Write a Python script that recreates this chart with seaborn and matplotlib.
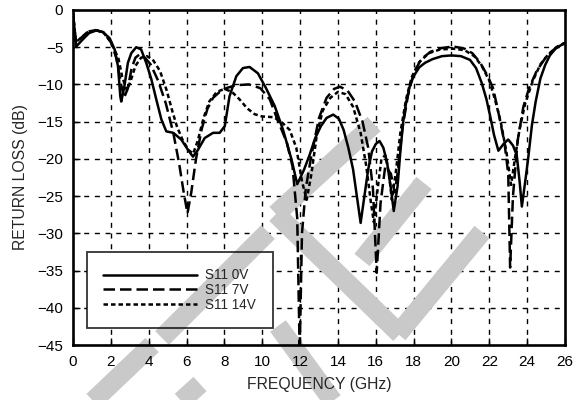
import matplotlib
matplotlib.use("Agg")
import matplotlib.pyplot as plt
from matplotlib.lines import Line2D
from matplotlib.patches import Rectangle
from matplotlib.ticker import MultipleLocator
import seaborn as sns

# S11 0V (solid)
freq_0v = [0.0, 0.17, 0.5, 0.85, 1.23, 1.58, 1.94, 2.2, 2.38, 2.5, 2.55, 2.72, 2.9, 3.08, 3.34,
           3.6, 3.87, 4.14, 4.4, 4.67, 4.93, 5.3, 5.72, 6.08, 6.34, 6.6, 6.96, 7.4, 7.75, 8.02,
           8.27, 8.63, 8.98, 9.33, 9.77, 10.2, 10.66, 11.1, 11.55, 11.85, 12.2, 12.5, 12.8, 13.1,
           13.4, 13.75, 14.05, 14.3, 14.55, 14.8, 15.0, 15.2, 15.4, 15.6, 15.8, 16.0, 16.2, 16.4,
           16.6, 16.8, 16.95, 17.15, 17.3, 17.45, 17.6, 17.8, 18.0, 18.3, 18.6, 19.0, 19.5, 20.0,
           20.5, 20.98, 21.3, 21.6, 21.85, 22.05, 22.25, 22.48, 22.75, 23.0, 23.25, 23.45, 23.6,
           23.72, 23.9, 24.06, 24.25, 24.45, 24.7, 24.95, 25.2, 25.5, 25.8, 26.0]
rl_0v = [-0.4, -4.9, -4.0, -3.1, -2.75, -2.95, -3.8, -5.3, -7.6, -11.6, -12.3, -10.2, -7.1, -5.8, -5.0,
         -5.3, -7.1, -9.3, -12.0, -14.7, -16.3, -16.5, -17.4, -18.8, -19.7, -18.8, -17.2, -16.5, -16.5, -15.6,
         -11.6, -8.9, -7.8, -7.65, -8.5, -10.5, -12.9, -16.1, -20.1, -23.4, -21.5, -19.5, -17.2, -15.6,
         -14.5, -14.05, -14.6, -16.1, -18.5, -21.4, -25.0, -28.6, -25.0, -21.4, -19.0, -18.0, -17.6, -18.5,
         -20.5, -24.0, -27.0, -23.7, -19.0, -15.0, -12.5, -10.2, -8.9, -7.7, -7.1, -6.6, -6.2, -6.1,
         -6.2, -6.7, -7.8, -9.8, -12.0, -14.3, -16.8, -18.9, -18.0, -17.4, -18.2, -19.5, -23.0,
         -26.4, -23.0, -19.8, -15.5, -12.3, -9.2, -7.4, -6.1, -5.2, -4.7, -4.5]

# S11 7V (long dashes)
freq_7v = [0.0, 0.15, 0.4, 0.8, 1.2, 1.6, 2.0, 2.3, 2.5, 2.7, 2.9, 3.1, 3.3, 3.5, 3.8, 4.1, 4.5,
           4.9, 5.3, 5.6, 5.85, 6.05, 6.25, 6.5, 6.8, 7.1, 7.4, 7.8, 8.1, 8.6, 9.3, 9.9, 10.4,
           10.8, 11.3, 11.6, 11.85, 11.98, 12.1, 12.3, 12.6, 13.0, 13.4, 13.8, 14.1, 14.5, 14.9,
           15.3, 15.6, 15.85, 16.05, 16.25, 16.5, 16.8, 17.0, 17.15, 17.4, 17.7, 18.0, 18.4, 18.9,
           19.5, 20.1, 20.7, 21.1, 21.5, 21.9, 22.2, 22.5, 22.8, 23.0, 23.1, 23.25, 23.5, 23.8,
           24.1, 24.5, 25.0, 25.5, 26.0]
rl_7v = [-0.5, -4.3, -3.8, -2.9, -2.7, -3.0, -4.3, -6.5, -9.5, -11.8, -10.5, -7.8, -6.4, -6.0, -6.4, -7.3, -9.5,
         -12.5, -16.5, -20.5, -24.5, -27.3, -24.5, -20.0, -16.0, -13.3, -11.8, -10.9, -10.5, -10.1, -10.0, -10.5, -12.0,
         -14.7, -17.8, -21.0, -28.0, -46.0, -30.0, -24.0, -19.5, -14.5, -11.8, -10.6, -10.3, -10.8, -12.3,
         -15.0, -18.5, -24.0, -35.3, -26.0, -21.0, -22.0, -24.5, -22.0, -16.0, -11.5, -8.5, -6.6, -5.6,
         -5.1, -4.9, -5.2, -5.8, -7.0, -8.8, -10.5, -14.0, -17.8, -22.0, -34.6, -25.0, -17.5, -13.0,
         -10.5, -8.2, -6.3, -5.1, -4.4]

# S11 14V (short dashes)
freq_14v = [0.0, 0.15, 0.4, 0.8, 1.2, 1.6, 2.0, 2.4, 2.6, 2.85, 3.05, 3.3, 3.6, 3.9, 4.2, 4.6, 4.95,
            5.25, 5.5, 5.8, 6.1, 6.35, 6.6, 6.9, 7.2, 7.6, 8.0, 8.4, 8.8, 9.2, 9.6, 10.0, 10.6, 11.0,
            11.45, 11.8, 12.1, 12.35, 12.6, 12.9, 13.2, 13.6, 14.0, 14.4, 14.8, 15.2, 15.5, 15.75,
            15.9, 16.1, 16.3, 16.5, 16.7, 16.85, 17.05, 17.3, 17.6, 17.9, 18.3, 18.8, 19.4, 20.1,
            20.7, 21.2, 21.6, 22.0, 22.3, 22.6, 22.9, 23.15, 23.35, 23.6, 23.9, 24.3, 24.7, 25.1,
            25.6, 26.0]
rl_14v = [-0.5, -4.3, -3.8, -2.9, -2.7, -3.0, -4.3, -6.5, -9.0, -10.8, -9.5, -7.5, -6.4, -6.2, -6.6, -8.2, -10.8,
          -13.6, -15.7, -17.5, -18.8, -19.3, -17.5, -14.5, -12.3, -11.0, -10.6, -11.0, -12.0, -13.2, -14.0, -14.3, -14.4, -15.0,
          -16.1, -18.5, -23.0, -25.5, -22.0, -16.5, -13.5, -11.8, -11.0, -11.3, -13.0, -16.5, -21.0, -26.0,
          -28.5, -24.0, -20.0, -19.5, -22.0, -25.5, -22.0, -16.5, -12.0, -9.0, -7.0, -5.8, -5.3, -5.2,
          -5.4, -6.2, -7.5, -9.5, -12.0, -15.0, -19.0, -23.5, -20.0, -16.0, -12.5, -9.5, -7.3, -6.0,
          -4.9, -4.4]

labels = ["S11 0V", "S11 7V", "S11 14V"]
x_ticks = list(range(0, 27, 2))
y_ticks = list(range(-45, 1, 5))

sns.set_style("white")
plt.rcParams['font.family'] = ['Liberation Sans', 'DejaVu Sans']
plt.rcParams['font.size'] = 11

fig = plt.figure(figsize=(5.82, 4.0), dpi=100)
ax = fig.add_axes([73 / 582, 55 / 400, 492 / 582, 335 / 400])

lw = 1.8
sns.lineplot(x=freq_0v, y=rl_0v, ax=ax, color="black", linewidth=lw, linestyle="-",
             label=labels[0], zorder=3)
sns.lineplot(x=freq_7v, y=rl_7v, ax=ax, color="black", linewidth=lw, linestyle=(0, (4.6, 2.0)),
             label=labels[1], zorder=3)
sns.lineplot(x=freq_14v, y=rl_14v, ax=ax, color="black", linewidth=lw, linestyle=(0, (1.8, 1.2)),
             label=labels[2], zorder=3)

ax.set_xlim(0, 26)
ax.set_ylim(-45, 0)
ax.set_xticks(x_ticks)
ax.set_yticks(y_ticks)
ax.xaxis.set_minor_locator(MultipleLocator(1))
ax.yaxis.set_minor_locator(MultipleLocator(1))
ax.tick_params(which="both", direction="in", colors="black", labelsize=11, pad=7)
ax.tick_params(which="major", length=5, width=1)
ax.tick_params(which="minor", length=3, width=1)
ax.tick_params(bottom=True, left=True, top=False, right=False)
ax.set_axisbelow(False)

# dashed grid drawn by hand so the watermark can sit above it but below the labels
grid_style = dict(color="black", linewidth=1.0, linestyle=(0, (3.6, 4.1)), zorder=1)
for xt in x_ticks[1:-1]:
    ax.axvline(xt, **grid_style)
for yt in y_ticks[1:-1]:
    ax.axhline(yt, **grid_style)

for sp in ax.spines.values():
    sp.set_linewidth(1.9)
    sp.set_color("black")

ax.set_xlabel("FREQUENCY (GHz)", fontsize=11.3, labelpad=6)
ax.set_ylabel("RETURN LOSS (dB)", fontsize=11.3, labelpad=7)

leg = ax.legend(loc="upper left", bbox_to_anchor=(14 / 492, 93 / 335), borderaxespad=0,
                frameon=True, fancybox=False, facecolor="none", edgecolor="black",
                handlelength=6.9, handletextpad=0.6, labelspacing=0.05, borderpad=1.2,
                fontsize=9.8)
leg.get_frame().set_linewidth(1.3)
leg.set_zorder(5)

# white fill behind the legend: hides the grid, the watermark still shows on it
fig.canvas.draw()
bb = leg.get_window_extent().transformed(fig.transFigure.inverted())
ax.add_patch(Rectangle((bb.x0, bb.y0), bb.width, bb.height, transform=fig.transFigure,
                       facecolor="white", edgecolor="none", zorder=1.2, clip_on=False))

# light gray watermark stripes (figure pixel coords)
stripes = [
    ((90, 404), (152, 345)),
    ((162, 338), (268, 232)),
    ((276, 214), (374, 124)),
    ((276, 214), (400, 334)),
    ((398, 334), (482, 232)),
    ((362, 260), (424, 183)),
    ((278, 326), (335, 404)),
    ((178, 404), (200, 384)),
]
for (x0, y0), (x1, y1) in stripes:
    ln = Line2D([x0 / 582, x1 / 582], [1 - y0 / 400, 1 - y1 / 400], transform=fig.transFigure,
                color="#c9c9c9", linewidth=14, solid_capstyle="butt", zorder=1.5, clip_on=False)
    ax.add_artist(ln)

fig.savefig("out.png", dpi=100)
